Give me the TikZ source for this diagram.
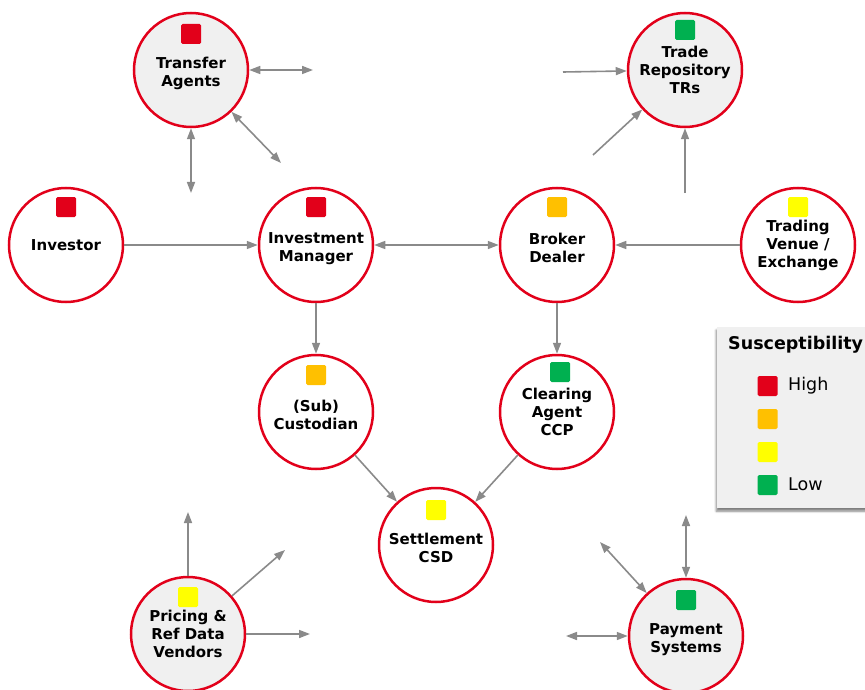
\documentclass[tikz,border=0pt]{standalone}
\usepackage{fontspec}
\setmainfont{DejaVu Sans}
\usetikzlibrary{arrows.meta,shadows.blur}
\definecolor{rred}{HTML}{E2001A}
\definecolor{rorange}{HTML}{FFC000}
\definecolor{ryellow}{HTML}{FFFF00}
\definecolor{rgreen}{HTML}{00B050}
\definecolor{rfill}{HTML}{F0F0F0}
\definecolor{rarrow}{HTML}{8A8A8A}
\tikzset{
  actor/.style={circle, draw=rred, line width=2.5pt, minimum size=114pt, inner sep=0pt,
    align=center, font=\fontsize{15}{18}\selectfont\bfseries, fill=white},
  ext/.style={actor, fill=rfill},
  sqbox/.style={rectangle, rounded corners=1.5pt, minimum size=20pt, inner sep=0pt, draw=none},
  legtext/.style={anchor=west, font=\fontsize{17.5}{20}\selectfont, inner sep=0pt},
  conn/.style={draw=rarrow, line width=1.6pt, -{Triangle[length=11pt,width=8pt]}},
  bconn/.style={draw=rarrow, line width=1.6pt, {Triangle[length=11pt,width=8pt]}-{Triangle[length=11pt,width=8pt]}},
}
\begin{document}
\begin{tikzpicture}[x=1pt,y=-1pt]
\useasboundingbox (0,0) rectangle (865,690);

% legend
\node[fill=rfill, minimum width=180pt, minimum height=181pt, anchor=north west, inner sep=0pt,
  blur shadow={shadow xshift=-1pt, shadow yshift=-3pt, shadow blur steps=6, shadow opacity=50}] (leg) at (717,327) {};
\node[legtext, font=\fontsize{17.5}{20}\selectfont\bfseries] (legt) at (728,345) {Susceptibility};
\node[sqbox, fill=rred] (l1) at (767.5,386) {};
\node[sqbox, fill=rorange] (l2) at (767.5,419) {};
\node[sqbox, fill=ryellow] (l3) at (767.5,452) {};
\node[sqbox, fill=rgreen] (l4) at (767.5,485) {};
\node[legtext] (lh) at (788,386) {High};
\node[legtext] (ll) at (788,484) {Low};

% nodes
\node[ext] (ta) at (191,70) {\\Transfer\\Agents};
\node[ext] (tr) at (685,70) {Trade\\Repository\\TRs};
\node[actor] (inv) at (66,245) {Investor};
\node[actor] (im) at (316,245) {\\Investment\\Manager};
\node[actor] (bd) at (557,245) {\\Broker\\Dealer};
\node[actor] (tv) at (798,245) {Trading\\Venue /\\Exchange};
\node[actor] (cu) at (316,412) {\\(Sub)\\Custodian};
\node[actor] (cl) at (557,412) {Clearing\\Agent\\CCP};
\node[actor] (se) at (436,545) {\\Settlement\\CSD};
\node[ext] (pr) at (188,634) {Pricing \&\\Ref Data\\Vendors};
\node[ext] (pa) at (686,636) {\\Payment\\Systems};

% markers
\node[sqbox, fill=rred] (sta) at (191,34) {};
\node[sqbox, fill=rgreen] (str) at (685,30) {};
\node[sqbox, fill=rred] (sinv) at (66,207) {};
\node[sqbox, fill=rred] (sim) at (316,207) {};
\node[sqbox, fill=rorange] (sbd) at (557,207) {};
\node[sqbox, fill=ryellow] (stv) at (798,207) {};
\node[sqbox, fill=rorange] (scu) at (316,375) {};
\node[sqbox, fill=rgreen] (scl) at (560,372) {};
\node[sqbox, fill=ryellow] (sse) at (436,510) {};
\node[sqbox, fill=ryellow] (spr) at (188,597) {};
\node[sqbox, fill=rgreen] (spa) at (686,600) {};

% free ends
\coordinate (ta-r) at (313,70);
\coordinate (ta-d) at (281,163);
\coordinate (ta-b) at (191,193);
\coordinate (tr-l) at (563,72);
\coordinate (tr-d) at (593,155);
\coordinate (tr-b) at (685,193);
\coordinate (pr-u) at (188,512);
\coordinate (pr-d) at (285,550);
\coordinate (pr-r) at (310,634);
\coordinate (pa-l) at (566,636);
\coordinate (pa-d) at (600,542);
\coordinate (pa-u) at (686,515);

% connectors
\draw[conn] (inv) -- (im);
\draw[bconn] (im) -- (bd);
\draw[conn] (tv) -- (bd);
\draw[conn] (im) -- (cu);
\draw[conn] (bd) -- (cl);
\draw[conn] (cu) -- (se);
\draw[conn] (cl) -- (se);

\draw[bconn] (ta) -- (ta-r);
\draw[bconn] (ta) -- (ta-d);
\draw[bconn] (ta) -- (ta-b);
\draw[conn] (tr-l) -- (tr);
\draw[conn] (tr-d) -- (tr);
\draw[conn] (tr-b) -- (tr);
\draw[conn] (pr) -- (pr-u);
\draw[conn] (pr) -- (pr-d);
\draw[conn] (pr) -- (pr-r);
\draw[bconn] (pa-l) -- (pa);
\draw[bconn] (pa-d) -- (pa);
\draw[bconn] (pa-u) -- (pa);
\end{tikzpicture}
\end{document}
